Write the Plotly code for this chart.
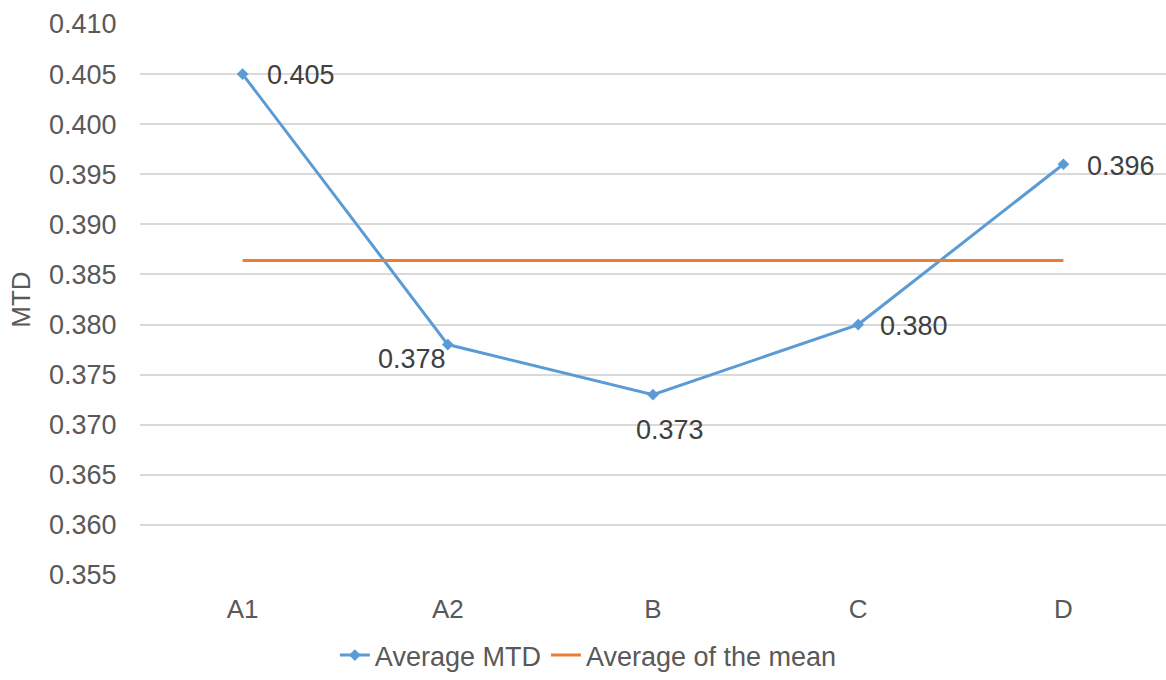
import plotly.graph_objects as go

# Categories and average MTD per group
categories = ["A1", "A2", "B", "C", "D"]
avg_mtd = [0.405, 0.378, 0.373, 0.380, 0.396]

# Label placement around each point: (xanchor, yanchor, xshift, yshift)
label_offsets = [
    ("left", "middle", 22, -1),
    ("right", "middle", 0, -14),
    ("center", "middle", 17, -35),
    ("left", "middle", 20, -1),
    ("left", "middle", 22, -2),
]

# Overall mean of the group averages
mean_of_means = sum(avg_mtd) / len(avg_mtd)

y_ticks = [0.355, 0.360, 0.365, 0.370, 0.375, 0.380, 0.385, 0.390, 0.395, 0.400, 0.405, 0.410]

font_family = "Liberation Sans, Arial, sans-serif"
text_grey = "#595959"
label_grey = "#404040"

fig = go.Figure()

fig.add_trace(go.Scatter(
    x=categories,
    y=avg_mtd,
    mode="lines+markers",
    name="Average MTD",
    line=dict(color="#5B9BD5", width=3),
    marker=dict(symbol="diamond", size=9, color="#5B9BD5"),
    cliponaxis=False,
))

fig.add_trace(go.Scatter(
    x=categories,
    y=[mean_of_means] * len(categories),
    mode="lines",
    name="Average of the mean",
    line=dict(color="#ED7D31", width=3),
))

# Value labels next to each point
for cat, val, (xa, ya, dx, dy) in zip(categories, avg_mtd, label_offsets):
    fig.add_annotation(
        x=cat, y=val, text=f"{val:.3f}",
        showarrow=False, xanchor=xa, yanchor=ya,
        xshift=dx, yshift=dy,
        font=dict(family=font_family, size=27, color=label_grey),
    )

fig.update_layout(
    width=1166,
    height=680,
    margin=dict(l=140, r=0, t=24, b=105),
    paper_bgcolor="white",
    plot_bgcolor="white",
    font=dict(family=font_family, size=26, color=text_grey),
    showlegend=True,
    legend=dict(
        orientation="h",
        x=0.437,
        xanchor="center",
        yref="container",
        y=0.0,
        yanchor="bottom",
        font=dict(size=27, color=text_grey),
        tracegroupgap=0,
    ),
    xaxis=dict(
        type="category",
        categoryorder="array",
        categoryarray=categories,
        range=[-0.5, 4.5],
        showgrid=False,
        showline=False,
        zeroline=False,
        ticks="outside",
        ticklen=11,
        tickcolor="rgba(0,0,0,0)",
        tickfont=dict(size=26, color=text_grey),
    ),
    yaxis=dict(
        range=[0.355, 0.410],
        tickvals=y_ticks,
        tickformat=".3f",
        showgrid=True,
        gridcolor="#D9D9D9",
        gridwidth=1.5,
        zeroline=False,
        showline=False,
        ticks="outside",
        ticklen=17,
        tickcolor="rgba(0,0,0,0)",
        tickfont=dict(size=27, color=text_grey),
        title=dict(text="MTD", font=dict(size=26, color=text_grey), standoff=10),
    ),
)

fig.write_html("out.html")
